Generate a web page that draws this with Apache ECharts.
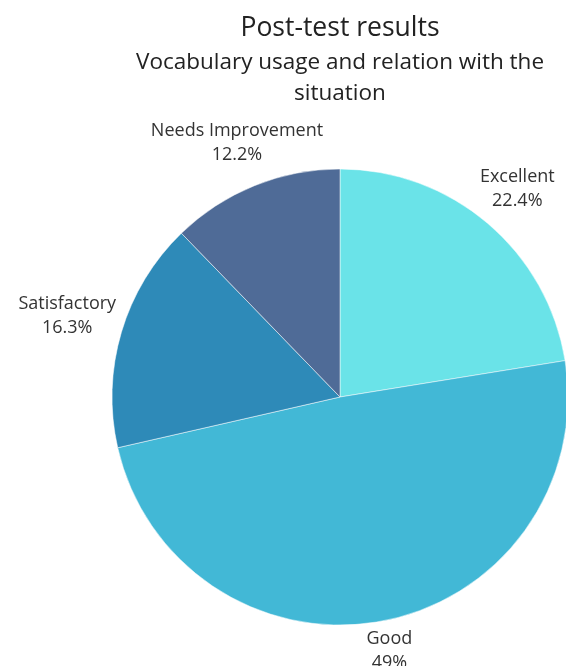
<!DOCTYPE html>
<html>
<head>
<meta charset="utf-8">
<script src="https://cdn.jsdelivr.net/npm/echarts@6/dist/echarts.min.js"></script>
<style>
  html, body { margin: 0; padding: 0; background: #fff; }
  #chart { width: 566px; height: 666px; }
</style>
</head>
<body>
<div id="chart"></div>
<script>
// answers from 49 students
var categories = ["Excellent", "Good", "Satisfactory", "Needs Improvement"];
var counts = [11, 24, 8, 6];
var colors = ["#6ae3e8", "#42b8d6", "#2e8ab8", "#4f6b97"];

var CX = 340, CY = 397, RADIUS = 228, GAP = 3;

var total = counts.reduce(function (a, b) { return a + b; }, 0);

// mid angle of each slice, clockwise from 12 o'clock
var midAngles = [];
var acc = 0;
counts.forEach(function (v) {
  midAngles.push((acc + v / 2) / total * Math.PI * 2);
  acc += v;
});

function pct(v) {
  return String(Math.round(v / total * 1000) / 10) + "%";
}

// distance from pie centre to nearest point of a box centred at (x, y)
function boxDist(x, y, w, h) {
  var nx = Math.max(x - w / 2, Math.min(CX, x + w / 2));
  var ny = Math.max(y - h / 2, Math.min(CY, y + h / 2));
  return Math.sqrt((nx - CX) * (nx - CX) + (ny - CY) * (ny - CY));
}

var chart = echarts.init(document.getElementById("chart"));

chart.setOption({
  animation: false,
  title: {
    text: "Post-test results",
    subtext: "Vocabulary usage and relation with the\nsituation",
    left: 335,
    top: 7,
    textAlign: "center",
    itemGap: 3,
    textStyle: {
      fontFamily: "Open Sans",
      fontSize: 26.5,
      fontWeight: "normal",
      color: "#222",
      lineHeight: 32
    },
    subtextStyle: {
      fontFamily: "Open Sans",
      fontSize: 22.5,
      color: "#222",
      lineHeight: 31
    }
  },
  series: [
    {
      type: "pie",
      center: [CX, CY],
      radius: RADIUS,
      startAngle: 90,
      clockwise: true,
      avoidLabelOverlap: false,
      itemStyle: {
        borderColor: "#ffffff",
        borderWidth: 0.5
      },
      label: {
        show: true,
        position: "outside",
        fontFamily: "Open Sans",
        fontSize: 18,
        lineHeight: 24,
        color: "#333",
        formatter: function (p) {
          return p.name + "\n" + pct(p.value);
        }
      },
      labelLine: { show: false },
      labelLayout: function (p) {
        var a = midAngles[p.dataIndex];
        var sx = Math.sin(a), sy = -Math.cos(a);
        var w = p.labelRect.width, h = p.labelRect.height;
        // push label out along the slice's mid ray until it clears the pie
        var d = RADIUS;
        while (boxDist(CX + sx * d, CY + sy * d, w, h) < RADIUS + GAP && d < RADIUS + 300) {
          d += 0.5;
        }
        return {
          x: CX + sx * d,
          y: CY + sy * d,
          align: "center",
          verticalAlign: "middle"
        };
      },
      data: categories.map(function (name, i) {
        return { name: name, value: counts[i], itemStyle: { color: colors[i] } };
      })
    }
  ]
});
</script>
</body>
</html>
